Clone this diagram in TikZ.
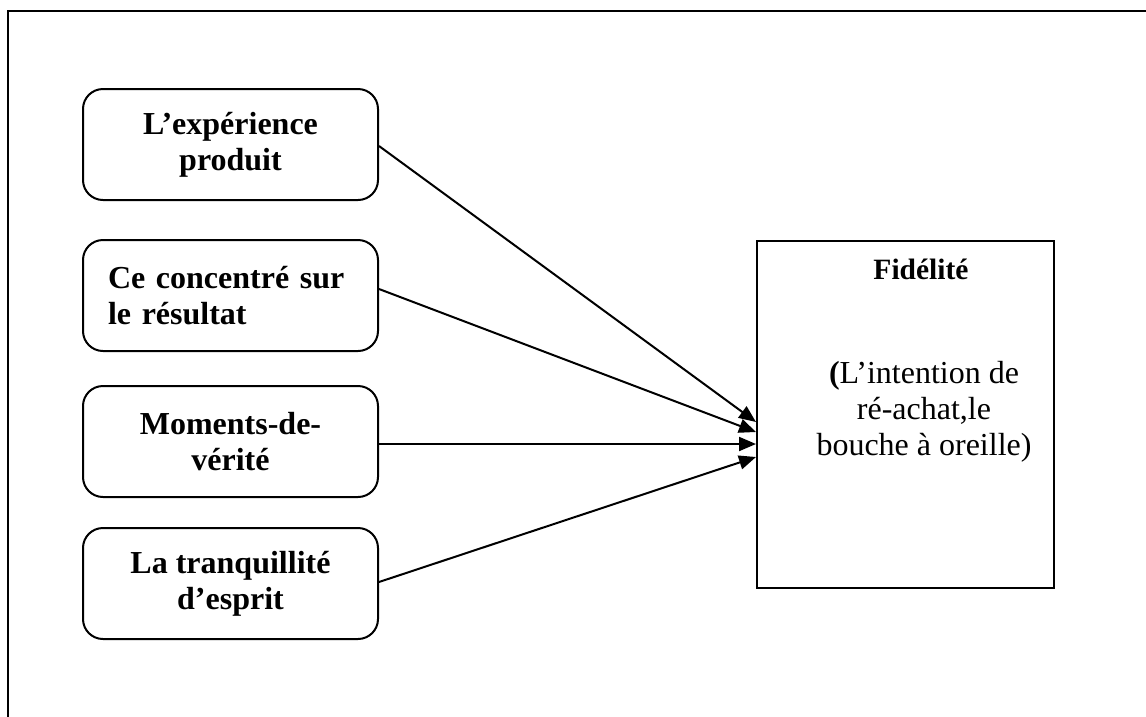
\documentclass[tikz,border=0pt]{standalone}
\usepackage{fontspec}
\setmainfont{Liberation Serif}
\usetikzlibrary{arrows.meta}
\begin{document}
\begin{tikzpicture}[x=1pt,y=-1pt,
  srcbox/.style={draw,line width=2pt,rounded corners=20pt,minimum width=295pt,minimum height=111pt,inner sep=0pt,align=center,font=\fontsize{32}{36}\selectfont\bfseries},
  arr/.style={line width=2pt,-{Triangle[length=17pt,width=14pt]}}]
\useasboundingbox (0,0) rectangle (1146,716);
\draw[line width=2.5pt] (1147,11) -- (8,11) -- (8,717);
\node[srcbox] (b1) at (230.5,144.5) {L’expérience\\produit};
\node[srcbox,text width=245pt,align=left] (b2) at (230.5,295.5) {Ce concentré sur\\le résultat};
\node[srcbox] (b3) at (230.5,441.5) {Moments-de-\\vérité};
\node[srcbox] (b4) at (230.5,583.5) {La tranquillité\\d’esprit};
\node[draw,line width=2pt,minimum width=297pt,minimum height=347pt,inner sep=0pt] (fid) at (905.5,414.5) {};
\node[anchor=base,inner sep=0pt,font=\fontsize{29.5}{34}\selectfont\bfseries] (fidt) at (921,279) {Fidélité};
\node[anchor=base,inner sep=0pt,align=center,font=\fontsize{32}{36}\selectfont] (fidd) at (924,455) {{\bfseries (}L’intention de\\ré-achat,le\\bouche à oreille)};
\draw[arr] ([yshift=-1.5pt]b1.east) -- ([yshift=-7.5pt]fid.west);
\draw[arr] ([yshift=6.5pt]b2.east) -- ([yshift=-17.5pt]fid.west);
\draw[arr] ([yshift=-2.5pt]b3.east) -- ([yshift=-29.5pt]fid.west);
\draw[arr] ([yshift=1.5pt]b4.east) -- ([yshift=-42.5pt]fid.west);
\end{tikzpicture}
\end{document}
